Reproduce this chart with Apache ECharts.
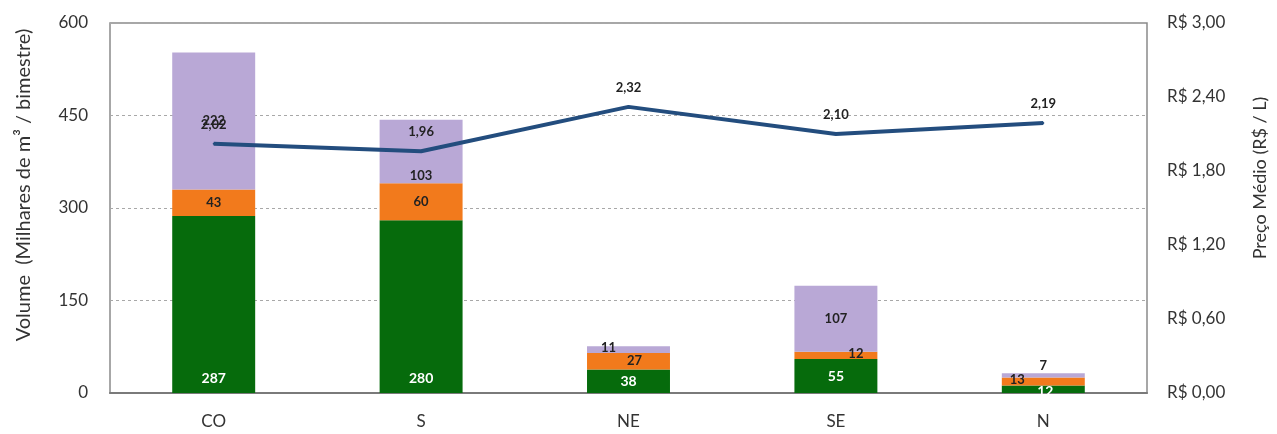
<!DOCTYPE html>
<html><head><meta charset="utf-8">
<script src="https://cdn.jsdelivr.net/npm/echarts@6/dist/echarts.min.js"></script>
<style>html,body{margin:0;padding:0;background:#fff}#c{width:1277px;height:434px}</style>
</head><body><div id="c"></div>
<script>
const categories = ['CO', 'S', 'NE', 'SE', 'N'];
const greenVals = [287, 280, 38, 55, 12];
const orangeVals = [43, 60, 27, 12, 13];
const lilacVals = [222, 103, 11, 107, 7];
const priceVals = [2.02, 1.96, 2.32, 2.10, 2.19];
const volTicks = [0, 150, 300, 450, 600];
const priceTicks = [0, 0.6, 1.2, 1.8, 2.4, 3.0];

const FONT = 'Lato';
const labelBase = {show: true, fontFamily: FONT, fontSize: 13, fontWeight: 'bold'};

// per-point label tweaks (style only)
const greenLbl = [{}, {}, {position: 'inside'}, {position: 'inside'}, {position: 'inside', offset: [2, 2]}];
const orangeLbl = [{}, {}, {offset: [6, 0]}, {offset: [20, -2]}, {offset: [-26, -2]}];
const lilacLbl = [{}, {position: 'insideBottom', distance: 1}, {offset: [-20, -2]}, {}, {position: 'top', distance: 1}];

function mk(vals, tweaks) {
  return vals.map((v, i) => ({value: v, label: tweaks[i]}));
}

const chart = echarts.init(document.getElementById('c'));
chart.setOption({
  animation: false,
  grid: {left: 110, right: 129, top: 23, bottom: 41, show: true, borderColor: '#8a8a8a', borderWidth: 1.5},
  xAxis: {
    type: 'category', data: categories,
    axisLine: {lineStyle: {color: '#7a7a7a', width: 2}},
    axisTick: {show: false},
    axisLabel: {color: '#333', fontFamily: FONT, fontSize: 17, margin: 20}
  },
  yAxis: [{
    type: 'value', min: volTicks[0], max: volTicks[volTicks.length - 1], interval: 150,
    name: 'Volume  (Milhares de m³ / bimestre)', nameLocation: 'middle', nameGap: 76,
    nameTextStyle: {color: '#333', fontFamily: FONT, fontSize: 20, padding: [0, 0, 0, 46]},
    axisLine: {show: false}, axisTick: {show: false},
    axisLabel: {color: '#333', fontFamily: FONT, fontSize: 17, margin: 22},
    splitLine: {lineStyle: {color: '#a8a8a8', type: [3, 3], width: 1}}
  }, {
    type: 'value', min: priceTicks[0], max: priceTicks[priceTicks.length - 1], interval: 0.6,
    name: 'Preço Médio (R$ / L)', nameLocation: 'middle', nameGap: 104,
    nameTextStyle: {color: '#333', fontFamily: FONT, fontSize: 18, padding: [0, 0, 0, 60]},
    axisLine: {show: false}, axisTick: {show: false},
    axisLabel: {color: '#333', fontFamily: FONT, fontSize: 17, margin: 20,
      formatter: v => 'R$ ' + v.toFixed(2).replace('.', ',')},
    splitLine: {show: false}
  }],
  series: [{
    type: 'bar', stack: 'v', barWidth: '40%', data: mk(greenVals, greenLbl),
    itemStyle: {color: '#066b0c'},
    label: Object.assign({}, labelBase, {position: 'insideBottom', distance: 8, color: '#fff', fontSize: 14})
  }, {
    type: 'bar', stack: 'v', data: mk(orangeVals, orangeLbl),
    itemStyle: {color: '#f27a1c'},
    label: Object.assign({}, labelBase, {position: 'inside', color: '#222'})
  }, {
    type: 'bar', stack: 'v', data: mk(lilacVals, lilacLbl),
    itemStyle: {color: '#b9a8d6'},
    label: Object.assign({}, labelBase, {position: 'inside', color: '#222'})
  }, {
    type: 'line', yAxisIndex: 1, data: priceVals, symbol: 'circle', symbolSize: 2, showSymbol: true,
    itemStyle: {color: '#234d7e'},
    lineStyle: {color: '#234d7e', width: 4},
    label: {show: true, position: 'top', distance: 12, color: '#222', fontFamily: FONT,
      fontSize: 13, fontWeight: 'bold', formatter: p => p.value.toFixed(2).replace('.', ',')}
  }]
});
</script></body></html>
